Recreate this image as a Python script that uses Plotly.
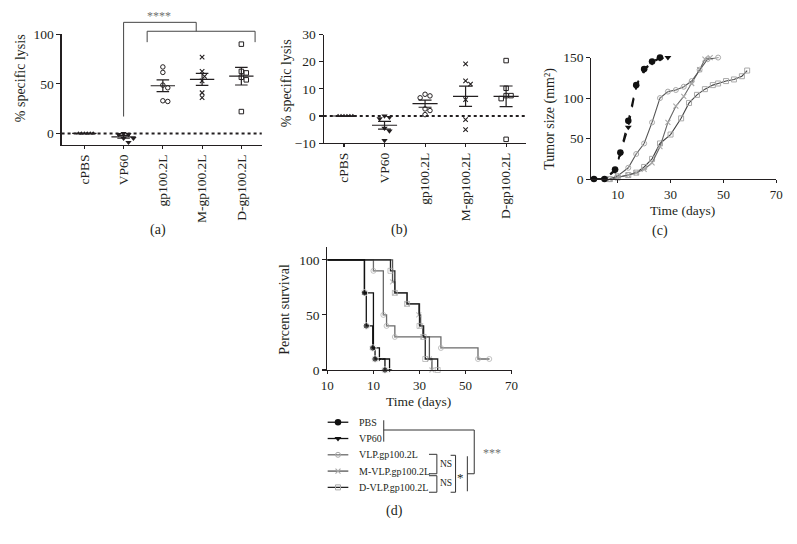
import numpy as np
import plotly.graph_objects as go

W, H = 797, 544
FONT = "Liberation Serif"
INK = "#231f20"

# ---------------- data ----------------
lysis_groups = ["cPBS", "VP60", "gp100.2L", "M-gp100.2L", "D-gp100.2L"]
lysis_a_ticks = [0, 50, 100]
lysis_b_ticks = [-10, 0, 10, 20, 30]

# panel (a)
lysis_a_cPBS = [0, 0, 0, 0, 0, 0]
lysis_a_VP60 = [0, -1, -1, -5, -5, -9]
lysis_a_gp = [67, 61.5, 48.7, 46, 32.9, 32.2]
lysis_a_Mgp = [77, 62.5, 57.6, 53, 41, 36]
lysis_a_Dgp = [90, 62.5, 61, 56.6, 54, 22]

# panel (b)
lysis_b_cPBS = [0, 0, 0, 0, 0, 0]
lysis_b_VP60 = [0, -0.5, -1, -4.5, -5.5, -9]
lysis_b_gp = [8, 7.4, 6.7, 2.6, 2, 0.5]
lysis_b_Mgp = [19.2, 12.9, 11.7, 6.0, -1.3, -5]
lysis_b_Dgp = [20.4, 10.2, 7.5, 7.5, 6.4, -8.6]

# panel (c)
treatments = ["PBS", "VP60", "VLP.gp100.2L", "M-VLP.gp100.2L", "D-VLP.gp100.2L"]
tumor_days_PBS = [1, 5, 9, 11, 14, 17, 20, 23, 26]
tumor_size_PBS = [0, 0, 12, 33, 72, 116, 136, 145, 150]
tumor_days_VP60 = [1, 5, 9, 11, 14, 17, 20, 23, 26, 29]
tumor_size_VP60 = [0, 0, 10, 31, 64, 114, 134, 144, 149, 150]
tumor_days_VLP = [7, 10, 14, 17, 20, 23, 26, 29, 32, 35, 38, 41, 44, 48]
tumor_size_VLP = [0, 4, 14, 31, 44, 70, 100, 108, 110, 114, 121, 135, 148, 150]
tumor_days_MVLP = [7, 10, 14, 17, 20, 23, 26, 29, 32, 35, 38, 41, 43, 45]
tumor_size_MVLP = [0, 2, 5, 8, 12, 20, 40, 70, 90, 102, 118, 135, 148, 150]
tumor_days_DVLP = [7, 10, 14, 17, 20, 23, 26, 30, 34, 37, 40, 43, 46, 48, 51, 54, 57, 59]
tumor_size_DVLP = [0, 2, 5, 8, 15, 25, 44, 55, 75, 94, 104, 111, 116, 118, 121, 123, 127, 134]
tumor_x_ticks = [10, 30, 50, 70]
tumor_y_ticks = [0, 50, 100, 150]

# panel (d)
surv_days_PBS = [-10, 6.1, 6.9, 9.7, 10.7, 15]
surv_pct_PBS = [100, 70, 40, 20, 10, 0]
surv_days_VP60 = [-10, 6.1, 10, 12.6, 17]
surv_pct_VP60 = [100, 70, 20, 10, 0]
surv_days_VLP = [-10, 10, 14.3, 15.7, 19.3, 39.3, 55.4, 60.3]
surv_pct_VLP = [100, 90, 50, 40, 30, 20, 10, 10]
surv_days_MVLP = [-10, 18.3, 19.3, 24.6, 29.7, 30.5, 31.4, 34.3, 35.4]
surv_pct_MVLP = [100, 80, 70, 60, 50, 40, 30, 10, 0]
surv_days_DVLP = [-10, 17.4, 19.3, 24.6, 30, 31.8, 32.5, 37.9]
surv_pct_DVLP = [100, 90, 70, 60, 40, 30, 10, 0]
surv_x_ticks = [-10, 10, 30, 50, 70]
surv_x_labels = ["10", "10", "30", "50", "70"]
surv_y_ticks = [0, 50, 100]

# ---------------- layout geometry (pixels) ----------------
PAN = {
    "a": dict(x=(56.5, 260), y=(28, 141.7), xr=(-0.58, 4.52), yr=(-11.5, 100)),
    "b": dict(x=(323, 529), y=(28.3, 140), xr=(-0.5, 4.5), yr=(-10, 30)),
    "c": dict(x=(595, 783), y=(52, 177), xr=(0, 70), yr=(0, 150)),
    "d": dict(x=(326.7, 514), y=(246.7, 373.3), xr=(-10, 70), yr=(0, 111.7)),
}


def xdom(p):
    return [p["x"][0] / W, p["x"][1] / W]


def ydom(p):
    return [1 - p["y"][1] / H, 1 - p["y"][0] / H]


def px_x(p, v):
    return p["x"][0] + (v - p["xr"][0]) / (p["xr"][1] - p["xr"][0]) * (p["x"][1] - p["x"][0])


def px_y(p, v):
    return p["y"][1] - (v - p["yr"][0]) / (p["yr"][1] - p["yr"][0]) * (p["y"][1] - p["y"][0])


def swarm(vals, ppu, ppc, diam, step):
    vals = np.asarray(vals, float)
    order = np.argsort(-vals, kind="stable")
    placed = []
    off = np.zeros(len(vals))
    cands = [0.0] + [s * step * j for j in range(1, 14) for s in (1, -1)]
    for i in order:
        yv = vals[i] * ppu
        for c in cands:
            if all((c - ox) ** 2 + (yv - oy) ** 2 >= diam ** 2 - 1e-9 for ox, oy in placed):
                break
        off[i] = c
        placed.append((c, yv))
    return off / ppc


fig = go.Figure()

sym = [
    dict(symbol="triangle-up", size=4.5, color=INK),
    dict(symbol="triangle-down", size=5.5, color=INK),
    dict(symbol="circle-open", size=4.5, color=INK, line=dict(width=1, color=INK)),
    dict(symbol="x-thin-open", size=4.5, color=INK, line=dict(width=1.1, color=INK)),
    dict(symbol="square-open", size=4.5, color=INK, line=dict(width=1, color=INK)),
]


def lysis_panel(key, xa, ya, series):
    p = PAN[key]
    ppu = (p["y"][1] - p["y"][0]) / (p["yr"][1] - p["yr"][0])
    ppc = (p["x"][1] - p["x"][0]) / (p["xr"][1] - p["xr"][0])
    mx, my = [], []
    for k, vals in enumerate(series):
        v = np.asarray(vals, float)
        if np.allclose(v, v[0]):
            offs = swarm(vals, ppu, ppc, 3.0, 3.0)
        else:
            offs = swarm(vals, ppu, ppc, 5.0, 2.5)
        fig.add_trace(go.Scatter(
            x=k + offs, y=v, mode="markers", marker=sym[k], xaxis=xa, yaxis=ya,
            showlegend=False, cliponaxis=False, hoverinfo="skip"))
        m = v.mean()
        s = v.std(ddof=1) / np.sqrt(len(v))
        mx += [k - 0.31, k + 0.31, None]
        my += [m, m, None]
        if s > 0:
            mx += [k, k, None, k - 0.16, k + 0.16, None, k - 0.16, k + 0.16, None]
            my += [m - s, m + s, None, m + s, m + s, None, m - s, m - s, None]
    fig.add_trace(go.Scatter(x=mx, y=my, mode="lines", line=dict(color=INK, width=1.2),
                             xaxis=xa, yaxis=ya, showlegend=False, hoverinfo="skip",
                             cliponaxis=False))
    fig.add_shape(type="line", xref=f"{xa} domain", x0=0, x1=1, yref=ya, y0=0, y1=0,
                  line=dict(color=INK, width=2, dash="dot"), layer="below")


lysis_panel("a", "x", "y", [lysis_a_cPBS, lysis_a_VP60, lysis_a_gp, lysis_a_Mgp, lysis_a_Dgp])
lysis_panel("b", "x2", "y2", [lysis_b_cPBS, lysis_b_VP60, lysis_b_gp, lysis_b_Mgp, lysis_b_Dgp])

# ---- panel (c) tumour growth
GRAY_M = "#a9a9a9"
tum_style = [
    dict(line=dict(color="#111", width=1.5, dash="dash"), marker=dict(symbol="circle", size=6.5, color="#111")),
    dict(line=dict(color="#111", width=1.5, dash="dash"), marker=dict(symbol="triangle-down", size=6, color="#111")),
    dict(line=dict(color="#555", width=1.1), marker=dict(symbol="circle-open-dot", size=5, color=GRAY_M, line=dict(width=1, color=GRAY_M))),
    dict(line=dict(color="#666", width=1.1), marker=dict(symbol="x-thin-open", size=5, color=GRAY_M, line=dict(width=1.1, color=GRAY_M))),
    dict(line=dict(color="#444", width=1.1), marker=dict(symbol="square-open", size=5, color=GRAY_M, line=dict(width=1, color=GRAY_M))),
]
tum = [(tumor_days_PBS, tumor_size_PBS), (tumor_days_VP60, tumor_size_VP60),
       (tumor_days_VLP, tumor_size_VLP), (tumor_days_MVLP, tumor_size_MVLP),
       (tumor_days_DVLP, tumor_size_DVLP)]
for i in [4, 3, 2, 1, 0]:
    d, s = tum[i]
    fig.add_trace(go.Scatter(x=d, y=s, mode="lines+markers", name=treatments[i],
                             xaxis="x3", yaxis="y3", showlegend=False, cliponaxis=False,
                             hoverinfo="skip", **tum_style[i]))

# ---- panel (d) survival
surv = [(surv_days_PBS, surv_pct_PBS), (surv_days_VP60, surv_pct_VP60),
        (surv_days_VLP, surv_pct_VLP), (surv_days_MVLP, surv_pct_MVLP),
        (surv_days_DVLP, surv_pct_DVLP)]
surv_line = ["#111", "#111", "#6a6a6a", "#555", "#222"]
surv_mk = [
    dict(symbol="circle", size=6.5, color="#111"),
    dict(symbol="triangle-down", size=6, color="#111"),
    dict(symbol="circle-open-dot", size=5, color=GRAY_M, line=dict(width=1, color=GRAY_M)),
    dict(symbol="x-thin-open", size=5, color=GRAY_M, line=dict(width=1.1, color=GRAY_M)),
    dict(symbol="square-open", size=5, color=GRAY_M, line=dict(width=1, color=GRAY_M)),
]
for i in [2, 3, 4, 1, 0]:
    d, s = surv[i]
    mk = dict(surv_mk[i])
    mk["size"] = [0] + [surv_mk[i]["size"]] * (len(d) - 1)
    fig.add_trace(go.Scatter(x=d, y=s, mode="lines+markers", line=dict(shape="hv", color=surv_line[i], width=1.3),
                             marker=mk, xaxis="x4", yaxis="y4", showlegend=False,
                             cliponaxis=False, hoverinfo="skip", name=treatments[i]))

# ---- manual legend (overlay axis in pixel units)
LEG_TOP, LEG_STEP = 427, 16.75
LEG_X0, LEG_X1, LEG_TX = 327, 348, 357
for i, name in enumerate(treatments):
    yy = LEG_TOP + LEG_STEP * i
    fig.add_trace(go.Scatter(x=[LEG_X0, LEG_X1], y=[yy, yy], mode="lines",
                             line=dict(color=surv_line[i], width=1.3), xaxis="x5", yaxis="y5",
                             showlegend=False, hoverinfo="skip"))
    fig.add_trace(go.Scatter(x=[(LEG_X0 + LEG_X1) / 2], y=[yy], mode="markers",
                             marker=surv_mk[i], xaxis="x5", yaxis="y5",
                             showlegend=False, hoverinfo="skip"))


def path(pts, color="#333", width=1.0):
    d = "M " + " L ".join(f"{x:.2f},{y:.2f}" for x, y in pts)
    fig.add_shape(type="path", path=d, xref="x5", yref="y5", line=dict(color=color, width=width))


# significance bracket of panel (a)
pa = PAN["a"]
path([(px_x(pa, 1), px_y(pa, 17)), (px_x(pa, 1), px_y(pa, 112)),
      (px_x(pa, 2.85), px_y(pa, 112)), (px_x(pa, 2.85), px_y(pa, 103))], "#444", 1)
path([(px_x(pa, 1.6), px_y(pa, 92)), (px_x(pa, 1.6), px_y(pa, 103)),
      (px_x(pa, 4.35), px_y(pa, 103)), (px_x(pa, 4.35), px_y(pa, 92))], "#444", 1)

# legend brackets of panel (d)
path([(384, 425), (384, 447)])
path([(384, 435), (476, 435), (476, 480), (469, 480)])
path([(469, 462), (469, 498)])
path([(430, 460), (438, 460), (438, 480), (430, 480)])
path([(430, 482), (438, 482), (438, 499), (430, 499)])
path([(452, 461), (457, 461), (457, 499), (452, 499)])


def ann(x, y, text, size=13.5, color=INK, angle=0, xanchor="center"):
    return dict(x=x, y=y, xref="x5", yref="y5", text=text, showarrow=False,
                font=dict(family=FONT, size=size, color=color), textangle=angle,
                xanchor=xanchor, yanchor="middle")


annotations = [
    ann(px_x(pa, 1.9), px_y(pa, 118), "****", 12, "#707070"),
    ann(15, 73.5, "% specific lysis", 14, angle=-90),
    ann(285, 78, "% specific lysis", 14, angle=-90),
    ann(553, 115, "Tumor size (mm²)", 14, angle=-90),
    ann(688, 209, "Time (days)", 13.5),
    ann(283, 311, "Percent survival", 14, angle=-90),
    ann(419, 406, "Time (days)", 13.5),
    ann(155, 229, "(a)", 14),
    ann(400, 229, "(b)", 14),
    ann(665, 230, "(c)", 14),
    ann(395, 518, "(d)", 14),
    ann(447, 470, "NS", 9.5),
    ann(447, 490, "NS", 9.5),
    ann(462, 484, "*", 13),
    ann(494, 459, "***", 12, "#707070"),
]
for i, name in enumerate(treatments):
    annotations.append(ann(LEG_TX, LEG_TOP + LEG_STEP * i, name, 10, xanchor="left"))

axis_common = dict(showline=True, linecolor=INK, linewidth=1.2, ticks="outside", ticklen=4,
                   tickwidth=1.1, tickcolor=INK, showgrid=False, zeroline=False,
                   tickfont=dict(family=FONT, size=13.5, color=INK), fixedrange=True)

layout = dict(
    width=W, height=H, autosize=False, margin=dict(l=0, r=0, t=0, b=0),
    paper_bgcolor="white", plot_bgcolor="rgba(0,0,0,0)", showlegend=False,
    font=dict(family=FONT, color=INK),
    annotations=annotations,
)


def set_axes(n, key, xextra, yextra):
    p = PAN[key]
    xs = "xaxis" if n == 1 else f"xaxis{n}"
    ys = "yaxis" if n == 1 else f"yaxis{n}"
    xa = dict(axis_common, domain=xdom(p), range=list(p["xr"]), anchor="y" if n == 1 else f"y{n}")
    ya = dict(axis_common, domain=ydom(p), range=list(p["yr"]), anchor="x" if n == 1 else f"x{n}")
    xa.update(xextra)
    ya.update(yextra)
    layout[xs] = xa
    layout[ys] = ya


cat_x = dict(tickmode="array", tickvals=list(range(len(lysis_groups))), ticktext=lysis_groups,
             tickangle=-90, ticklen=3, tickfont=dict(family=FONT, size=13.5, color=INK))
time_x_font = dict(family=FONT, size=13, color=INK)
set_axes(1, "a", cat_x, dict(tickmode="array", tickvals=lysis_a_ticks))
set_axes(2, "b", cat_x, dict(tickmode="array", tickvals=lysis_b_ticks))
set_axes(3, "c", dict(tickmode="array", tickvals=tumor_x_ticks, ticklen=3, tickfont=time_x_font),
         dict(tickmode="array", tickvals=tumor_y_ticks))
set_axes(4, "d", dict(tickmode="array", tickvals=surv_x_ticks, ticktext=surv_x_labels, ticklen=3,
                      tickfont=time_x_font),
         dict(tickmode="array", tickvals=surv_y_ticks))
layout["xaxis5"] = dict(domain=[0, 1], range=[0, W], visible=False, anchor="y5", fixedrange=True)
layout["yaxis5"] = dict(domain=[0, 1], range=[H, 0], visible=False, anchor="x5", fixedrange=True)

fig.update_layout(**layout)
fig.write_html("out.html", config=dict(staticPlot=True),
               post_script="document.body.style.margin='0';document.body.style.overflow='hidden';")
